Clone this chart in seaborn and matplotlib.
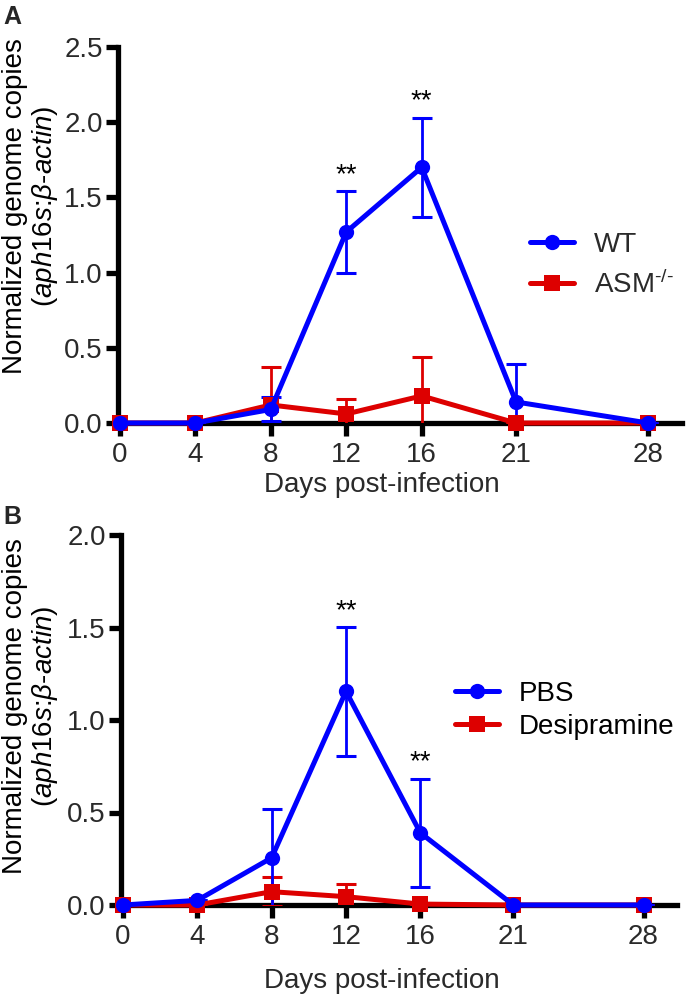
import matplotlib
matplotlib.use('Agg')
import matplotlib.pyplot as plt
import seaborn as sns
import numpy as np

# data
days = [0, 4, 8, 12, 16, 21, 28]

wt_mean = [0.0, 0.0, 0.09, 1.27, 1.70, 0.14, 0.0]
wt_sd = [0.0, 0.0, 0.08, 0.27, 0.33, 0.25, 0.0]
asm_mean = [0.0, 0.0, 0.12, 0.06, 0.18, 0.0, 0.0]
asm_sd = [0.0, 0.0, 0.25, 0.10, 0.26, 0.0, 0.0]

pbs_mean = [0.0, 0.025, 0.255, 1.155, 0.39, 0.0, 0.0]
pbs_sd = [0.0, 0.0, 0.265, 0.35, 0.29, 0.0, 0.0]
des_mean = [0.0, 0.0, 0.072, 0.045, 0.005, 0.0, 0.0]
des_sd = [0.0, 0.0, 0.08, 0.07, 0.0, 0.0, 0.0]

sig_a = [(12, 1.54), (16, 2.03)]
sig_b = [(12, 1.50), (16, 0.686)]

BLUE = '#0000ff'
RED = '#dd0000'
TXT = '#2a2a2a'
FS = 20

sns.set_theme(style='ticks')
plt.rcParams['font.family'] = ['Liberation Sans', 'DejaVu Sans']
plt.rcParams['mathtext.fontset'] = 'custom'
plt.rcParams['mathtext.rm'] = 'Liberation Sans'
plt.rcParams['mathtext.it'] = 'Liberation Sans:italic'

fig = plt.figure(figsize=(6.87, 9.99), dpi=100)


def draw_panel(ax, series, ymax, yticks, sig):
    # red first, blue on top
    for mean, sd, color, marker, label in series:
        ax.errorbar(days, mean, yerr=sd, fmt='none', ecolor=color,
                    elinewidth=2, capsize=7, capthick=2.2, zorder=3)
        sns.lineplot(x=days, y=mean, color=color, marker=marker, markersize=11,
                     markeredgewidth=0, linewidth=3.6, label=label, ax=ax,
                     clip_on=False, zorder=4)
    ax.set_ylim(0, ymax)
    ax.set_xlim(-0.1, 29.8)
    ax.set_yticks(yticks)
    ax.set_yticklabels([f'{t:.1f}' for t in yticks])
    ax.set_xticks(days)
    ax.set_xticklabels([str(d) for d in days])
    ax.set_xlabel('')
    ax.set_ylabel('')
    sns.despine(ax=ax)
    for s in ['left', 'bottom']:
        ax.spines[s].set_linewidth(3.8)
        ax.spines[s].set_color('black')
    ax.tick_params(axis='both', length=9, width=3.8, color='black',
                   labelsize=FS, labelcolor=TXT)
    ax.tick_params(axis='y', pad=2)
    ax.tick_params(axis='x', pad=5)
    for x, y in sig:
        ax.text(x, y + ymax * 0.008, '**', ha='center', va='bottom',
                fontsize=FS, color='black')
    handles, labels = ax.get_legend_handles_labels()
    ax.get_legend().remove()
    return handles, labels


# panel A
axA = fig.add_axes([118 / 687, 1 - 423 / 999, 564 / 687, 376 / 999])
hA, lA = draw_panel(axA,
                    [(asm_mean, asm_sd, RED, 's', r'ASM$^{\text{-/-}}$'),
                     (wt_mean, wt_sd, BLUE, 'o', 'WT')],
                    2.5, [0.0, 0.5, 1.0, 1.5, 2.0, 2.5], sig_a)
fig.legend(hA[::-1], lA[::-1], loc='upper left', bbox_to_anchor=(530 / 687, 1 - 232 / 999),
           frameon=False, fontsize=FS, handlelength=1.6, handletextpad=0.7,
           labelspacing=0.45, borderpad=0, borderaxespad=0, labelcolor=TXT)

# panel B
axB = fig.add_axes([121 / 687, 1 - 905 / 999, 556 / 687, 370 / 999])
hB, lB = draw_panel(axB,
                    [(des_mean, des_sd, RED, 's', 'Desipramine'),
                     (pbs_mean, pbs_sd, BLUE, 'o', 'PBS')],
                    2.0, [0.0, 0.5, 1.0, 1.5, 2.0], sig_b)
fig.legend(hB[::-1], lB[::-1], loc='upper left', bbox_to_anchor=(455 / 687, 1 - 681 / 999),
           frameon=False, fontsize=FS, handlelength=1.6, handletextpad=0.7,
           labelspacing=0.25, borderpad=0, borderaxespad=0, labelcolor='black')

# axis titles
ylab2 = r'($\mathit{aph16s}$:$\mathit{\beta}$-$\mathit{actin}$)'
for yc in [206, 706]:
    fig.text(15 / 687, 1 - yc / 999, 'Normalized genome copies', rotation=90,
             ha='center', va='center', fontsize=FS, color='black')
    fig.text(45 / 687, 1 - yc / 999, ylab2, rotation=90,
             ha='center', va='center', fontsize=FS, color='black')
for yb in [492, 988]:
    fig.text(382 / 687, 1 - yb / 999, 'Days post-infection', ha='center', va='baseline',
             fontsize=FS, color=TXT)

fig.text(3 / 687, 1 - 17 / 999, 'A', fontsize=18, fontweight='bold', va='center', ha='left')
fig.text(3 / 687, 1 - 517 / 999, 'B', fontsize=18, fontweight='bold', va='center', ha='left')

fig.savefig('out.png', dpi=100)
